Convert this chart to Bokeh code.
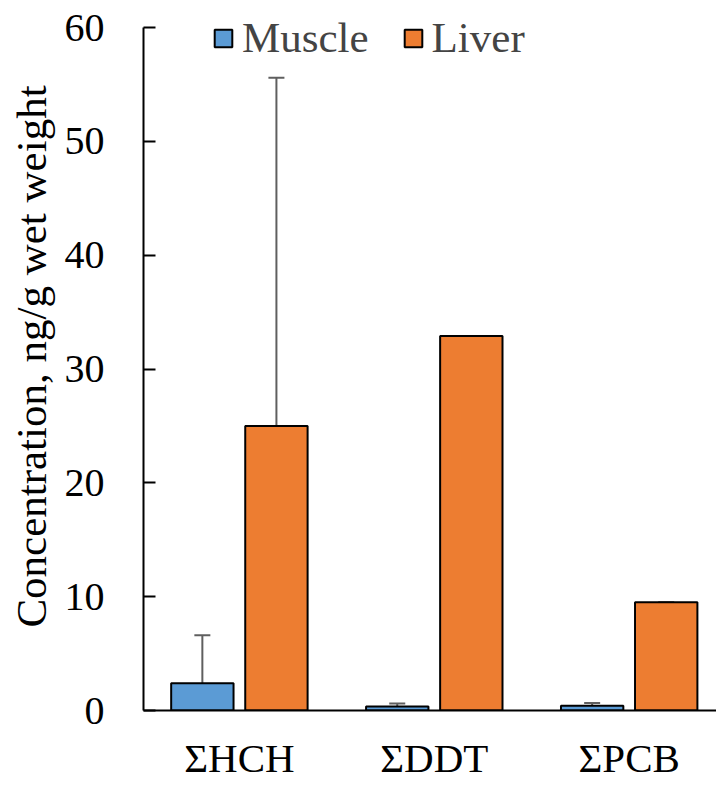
from bokeh.plotting import figure
from bokeh.models import (ColumnDataSource, Range1d, FixedTicker, Whisker, TeeHead,
                          Legend, LegendItem)
from bokeh.embed import file_html
from bokeh.resources import INLINE

categories = ["ΣHCH", "ΣDDT", "ΣPCB"]
series = ["Muscle", "Liver"]
muscle = [2.4, 0.35, 0.42]
muscle_err_upper = [6.6, 0.62, 0.65]
liver = [25.0, 32.9, 9.5]
liver_err_upper = [55.6, 32.9, 9.5]
y_ticks = [0, 10, 20, 30, 40, 50, 60]
colors = ["#5B9BD5", "#ED7D31"]

FONT = "Liberation Serif"
offset = 0.19
bw = 0.32

centers = [i + 0.5 for i in range(len(categories))]
src_m = ColumnDataSource(dict(x=[c - offset for c in centers], top=muscle, up=muscle_err_upper))
src_l = ColumnDataSource(dict(x=[c + offset for c in centers], top=liver, up=liver_err_upper))

p = figure(width=716, height=783, output_backend="svg", toolbar_location=None,
           x_range=Range1d(0.008, 2.948), y_range=Range1d(0, 62.2),
           min_border_left=143, min_border_right=0, min_border_top=2, min_border_bottom=70)
p.outline_line_color = None
p.grid.visible = False
p.background_fill_color = "white"

rm = p.vbar(x="x", top="top", width=bw, source=src_m, fill_color=colors[0],
            line_color="black", line_width=2)
rl = p.vbar(x="x", top="top", width=bw, source=src_l, fill_color=colors[1],
            line_color="black", line_width=2)

for src in (src_m, src_l):
    w = Whisker(base="x", upper="up", lower="top", source=src, line_color="#5f5f5f",
                line_width=2, lower_head=None,
                upper_head=TeeHead(size=16, line_color="#5f5f5f", line_width=2))
    p.add_layout(w)

# y axis
ya = p.yaxis[0]
ya.ticker = FixedTicker(ticks=y_ticks)
ya.bounds = (0, 60)
ya.minor_tick_line_color = None
ya.major_tick_in = 12
ya.major_tick_out = 0
ya.major_tick_line_width = 2
ya.axis_line_width = 2
ya.axis_line_color = "black"
ya.major_tick_line_color = "black"
ya.major_label_text_font = FONT
ya.major_label_text_font_size = "40px"
ya.major_label_text_color = "black"
ya.major_label_standoff = 39
ya.axis_label = "Concentration, ng/g wet weight"
ya.axis_label_text_font = FONT
ya.axis_label_text_font_size = "43px"
ya.axis_label_text_font_style = "normal"
ya.axis_label_text_color = "black"
ya.axis_label_standoff = 7

# x axis
xa = p.xaxis[0]
xa.ticker = FixedTicker(ticks=centers)
xa.major_label_overrides = {c: name for c, name in zip(centers, categories)}
xa.minor_tick_line_color = None
xa.major_tick_in = 0
xa.major_tick_out = 0
xa.axis_line_width = 2
xa.axis_line_color = "black"
xa.major_label_text_font = FONT
xa.major_label_text_font_size = "41px"
xa.major_label_text_color = "black"
xa.major_label_standoff = 24

legend = Legend(items=[LegendItem(label=series[0], renderers=[rm]),
                       LegendItem(label=series[1], renderers=[rl])],
                orientation="horizontal", location=(69, 648),
                label_text_font=FONT, label_text_font_size="43px",
                label_text_line_height=1.0, label_height=22,
                glyph_width=22, glyph_height=22, label_standoff=8, spacing=33,
                padding=0, margin=0, border_line_color=None,
                background_fill_alpha=0)
p.add_layout(legend)

open("out.html", "w").write(file_html(p, INLINE))
